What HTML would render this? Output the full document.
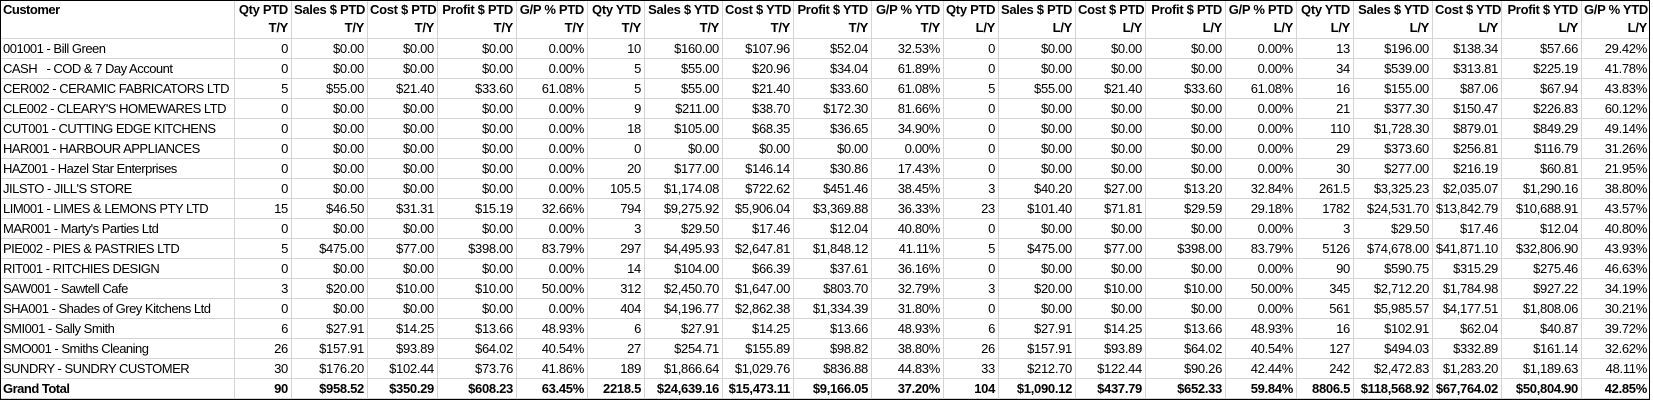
<!DOCTYPE html>
<html><head><meta charset="utf-8">
<style>
html,body{margin:0;padding:0;background:#fff;}
body{width:1653px;height:401px;overflow:hidden;position:relative;font-family:"Liberation Sans",Arial,sans-serif;font-size:13px;color:#000;}
#w{position:absolute;left:0;top:0;width:1650px;height:400px;border:1px solid #000;box-sizing:border-box;overflow:hidden;}
.r{position:absolute;left:0;height:20px;display:flex;}
.r>span{box-sizing:border-box;height:100%;border-right:1px solid #d4d4d4;border-bottom:1px solid #d4d4d4;text-align:right;padding:0 3px 0 2px;white-space:nowrap;overflow:hidden;line-height:20px;letter-spacing:-0.3px;}
.r>span:first-child{text-align:left;letter-spacing:-0.5px;}
.h{top:0;height:38px;font-weight:bold;}
.h>span{line-height:18px;}
.g{font-weight:bold;}
.r>span:nth-child(1){width:234px}.r>span:nth-child(2){width:57px}.r>span:nth-child(3){width:76px}.r>span:nth-child(4){width:70px}.r>span:nth-child(5){width:79px}.r>span:nth-child(6){width:71px}.r>span:nth-child(7){width:57px}.r>span:nth-child(8){width:78px}.r>span:nth-child(9){width:71px}.r>span:nth-child(10){width:78px}.r>span:nth-child(11){width:72px}.r>span:nth-child(12){width:55px}.r>span:nth-child(13){width:77px}.r>span:nth-child(14){width:70px}.r>span:nth-child(15){width:80px}.r>span:nth-child(16){width:71px}.r>span:nth-child(17){width:57px}.r>span:nth-child(18){width:79px}.r>span:nth-child(19){width:69px}.r>span:nth-child(20){width:80px}.r>span:nth-child(21){width:68px;border-right:none}
</style></head><body>
<div id="w">
<div class="r h"><span>Customer</span><span>Qty PTD<br>T/Y</span><span>Sales $ PTD<br>T/Y</span><span>Cost $ PTD<br>T/Y</span><span>Profit $ PTD<br>T/Y</span><span>G/P % PTD<br>T/Y</span><span>Qty YTD<br>T/Y</span><span>Sales $ YTD<br>T/Y</span><span>Cost $ YTD<br>T/Y</span><span>Profit $ YTD<br>T/Y</span><span>G/P % YTD<br>T/Y</span><span>Qty PTD<br>L/Y</span><span>Sales $ PTD<br>L/Y</span><span>Cost $ PTD<br>L/Y</span><span>Profit $ PTD<br>L/Y</span><span>G/P % PTD<br>L/Y</span><span>Qty YTD<br>L/Y</span><span>Sales $ YTD<br>L/Y</span><span>Cost $ YTD<br>L/Y</span><span>Profit $ YTD<br>L/Y</span><span>G/P % YTD<br>L/Y</span></div>
<div class="r" style="top:38px"><span>001001 - Bill Green</span><span>0</span><span>$0.00</span><span>$0.00</span><span>$0.00</span><span>0.00%</span><span>10</span><span>$160.00</span><span>$107.96</span><span>$52.04</span><span>32.53%</span><span>0</span><span>$0.00</span><span>$0.00</span><span>$0.00</span><span>0.00%</span><span>13</span><span>$196.00</span><span>$138.34</span><span>$57.66</span><span>29.42%</span></div>
<div class="r" style="top:58px"><span>CASH &nbsp; - COD &amp; 7 Day Account</span><span>0</span><span>$0.00</span><span>$0.00</span><span>$0.00</span><span>0.00%</span><span>5</span><span>$55.00</span><span>$20.96</span><span>$34.04</span><span>61.89%</span><span>0</span><span>$0.00</span><span>$0.00</span><span>$0.00</span><span>0.00%</span><span>34</span><span>$539.00</span><span>$313.81</span><span>$225.19</span><span>41.78%</span></div>
<div class="r" style="top:78px"><span>CER002 - CERAMIC FABRICATORS LTD</span><span>5</span><span>$55.00</span><span>$21.40</span><span>$33.60</span><span>61.08%</span><span>5</span><span>$55.00</span><span>$21.40</span><span>$33.60</span><span>61.08%</span><span>5</span><span>$55.00</span><span>$21.40</span><span>$33.60</span><span>61.08%</span><span>16</span><span>$155.00</span><span>$87.06</span><span>$67.94</span><span>43.83%</span></div>
<div class="r" style="top:98px"><span>CLE002 - CLEARY'S HOMEWARES LTD</span><span>0</span><span>$0.00</span><span>$0.00</span><span>$0.00</span><span>0.00%</span><span>9</span><span>$211.00</span><span>$38.70</span><span>$172.30</span><span>81.66%</span><span>0</span><span>$0.00</span><span>$0.00</span><span>$0.00</span><span>0.00%</span><span>21</span><span>$377.30</span><span>$150.47</span><span>$226.83</span><span>60.12%</span></div>
<div class="r" style="top:118px"><span>CUT001 - CUTTING EDGE KITCHENS</span><span>0</span><span>$0.00</span><span>$0.00</span><span>$0.00</span><span>0.00%</span><span>18</span><span>$105.00</span><span>$68.35</span><span>$36.65</span><span>34.90%</span><span>0</span><span>$0.00</span><span>$0.00</span><span>$0.00</span><span>0.00%</span><span>110</span><span>$1,728.30</span><span>$879.01</span><span>$849.29</span><span>49.14%</span></div>
<div class="r" style="top:138px"><span>HAR001 - HARBOUR APPLIANCES</span><span>0</span><span>$0.00</span><span>$0.00</span><span>$0.00</span><span>0.00%</span><span>0</span><span>$0.00</span><span>$0.00</span><span>$0.00</span><span>0.00%</span><span>0</span><span>$0.00</span><span>$0.00</span><span>$0.00</span><span>0.00%</span><span>29</span><span>$373.60</span><span>$256.81</span><span>$116.79</span><span>31.26%</span></div>
<div class="r" style="top:158px"><span>HAZ001 - Hazel Star Enterprises</span><span>0</span><span>$0.00</span><span>$0.00</span><span>$0.00</span><span>0.00%</span><span>20</span><span>$177.00</span><span>$146.14</span><span>$30.86</span><span>17.43%</span><span>0</span><span>$0.00</span><span>$0.00</span><span>$0.00</span><span>0.00%</span><span>30</span><span>$277.00</span><span>$216.19</span><span>$60.81</span><span>21.95%</span></div>
<div class="r" style="top:178px"><span>JILSTO - JILL'S STORE</span><span>0</span><span>$0.00</span><span>$0.00</span><span>$0.00</span><span>0.00%</span><span>105.5</span><span>$1,174.08</span><span>$722.62</span><span>$451.46</span><span>38.45%</span><span>3</span><span>$40.20</span><span>$27.00</span><span>$13.20</span><span>32.84%</span><span>261.5</span><span>$3,325.23</span><span>$2,035.07</span><span>$1,290.16</span><span>38.80%</span></div>
<div class="r" style="top:198px"><span>LIM001 - LIMES &amp; LEMONS PTY LTD</span><span>15</span><span>$46.50</span><span>$31.31</span><span>$15.19</span><span>32.66%</span><span>794</span><span>$9,275.92</span><span>$5,906.04</span><span>$3,369.88</span><span>36.33%</span><span>23</span><span>$101.40</span><span>$71.81</span><span>$29.59</span><span>29.18%</span><span>1782</span><span>$24,531.70</span><span>$13,842.79</span><span>$10,688.91</span><span>43.57%</span></div>
<div class="r" style="top:218px"><span>MAR001 - Marty's Parties Ltd</span><span>0</span><span>$0.00</span><span>$0.00</span><span>$0.00</span><span>0.00%</span><span>3</span><span>$29.50</span><span>$17.46</span><span>$12.04</span><span>40.80%</span><span>0</span><span>$0.00</span><span>$0.00</span><span>$0.00</span><span>0.00%</span><span>3</span><span>$29.50</span><span>$17.46</span><span>$12.04</span><span>40.80%</span></div>
<div class="r" style="top:238px"><span>PIE002 - PIES &amp; PASTRIES LTD</span><span>5</span><span>$475.00</span><span>$77.00</span><span>$398.00</span><span>83.79%</span><span>297</span><span>$4,495.93</span><span>$2,647.81</span><span>$1,848.12</span><span>41.11%</span><span>5</span><span>$475.00</span><span>$77.00</span><span>$398.00</span><span>83.79%</span><span>5126</span><span>$74,678.00</span><span>$41,871.10</span><span>$32,806.90</span><span>43.93%</span></div>
<div class="r" style="top:258px"><span>RIT001 - RITCHIES DESIGN</span><span>0</span><span>$0.00</span><span>$0.00</span><span>$0.00</span><span>0.00%</span><span>14</span><span>$104.00</span><span>$66.39</span><span>$37.61</span><span>36.16%</span><span>0</span><span>$0.00</span><span>$0.00</span><span>$0.00</span><span>0.00%</span><span>90</span><span>$590.75</span><span>$315.29</span><span>$275.46</span><span>46.63%</span></div>
<div class="r" style="top:278px"><span>SAW001 - Sawtell Cafe</span><span>3</span><span>$20.00</span><span>$10.00</span><span>$10.00</span><span>50.00%</span><span>312</span><span>$2,450.70</span><span>$1,647.00</span><span>$803.70</span><span>32.79%</span><span>3</span><span>$20.00</span><span>$10.00</span><span>$10.00</span><span>50.00%</span><span>345</span><span>$2,712.20</span><span>$1,784.98</span><span>$927.22</span><span>34.19%</span></div>
<div class="r" style="top:298px"><span>SHA001 - Shades of Grey Kitchens Ltd</span><span>0</span><span>$0.00</span><span>$0.00</span><span>$0.00</span><span>0.00%</span><span>404</span><span>$4,196.77</span><span>$2,862.38</span><span>$1,334.39</span><span>31.80%</span><span>0</span><span>$0.00</span><span>$0.00</span><span>$0.00</span><span>0.00%</span><span>561</span><span>$5,985.57</span><span>$4,177.51</span><span>$1,808.06</span><span>30.21%</span></div>
<div class="r" style="top:318px"><span>SMI001 - Sally Smith</span><span>6</span><span>$27.91</span><span>$14.25</span><span>$13.66</span><span>48.93%</span><span>6</span><span>$27.91</span><span>$14.25</span><span>$13.66</span><span>48.93%</span><span>6</span><span>$27.91</span><span>$14.25</span><span>$13.66</span><span>48.93%</span><span>16</span><span>$102.91</span><span>$62.04</span><span>$40.87</span><span>39.72%</span></div>
<div class="r" style="top:338px"><span>SMO001 - Smiths Cleaning</span><span>26</span><span>$157.91</span><span>$93.89</span><span>$64.02</span><span>40.54%</span><span>27</span><span>$254.71</span><span>$155.89</span><span>$98.82</span><span>38.80%</span><span>26</span><span>$157.91</span><span>$93.89</span><span>$64.02</span><span>40.54%</span><span>127</span><span>$494.03</span><span>$332.89</span><span>$161.14</span><span>32.62%</span></div>
<div class="r" style="top:358px"><span>SUNDRY - SUNDRY CUSTOMER</span><span>30</span><span>$176.20</span><span>$102.44</span><span>$73.76</span><span>41.86%</span><span>189</span><span>$1,866.64</span><span>$1,029.76</span><span>$836.88</span><span>44.83%</span><span>33</span><span>$212.70</span><span>$122.44</span><span>$90.26</span><span>42.44%</span><span>242</span><span>$2,472.83</span><span>$1,283.20</span><span>$1,189.63</span><span>48.11%</span></div>
<div class="r g" style="top:378px"><span>Grand Total</span><span>90</span><span>$958.52</span><span>$350.29</span><span>$608.23</span><span>63.45%</span><span>2218.5</span><span>$24,639.16</span><span>$15,473.11</span><span>$9,166.05</span><span>37.20%</span><span>104</span><span>$1,090.12</span><span>$437.79</span><span>$652.33</span><span>59.84%</span><span>8806.5</span><span>$118,568.92</span><span>$67,764.02</span><span>$50,804.90</span><span>42.85%</span></div>
</div>
</body></html>
